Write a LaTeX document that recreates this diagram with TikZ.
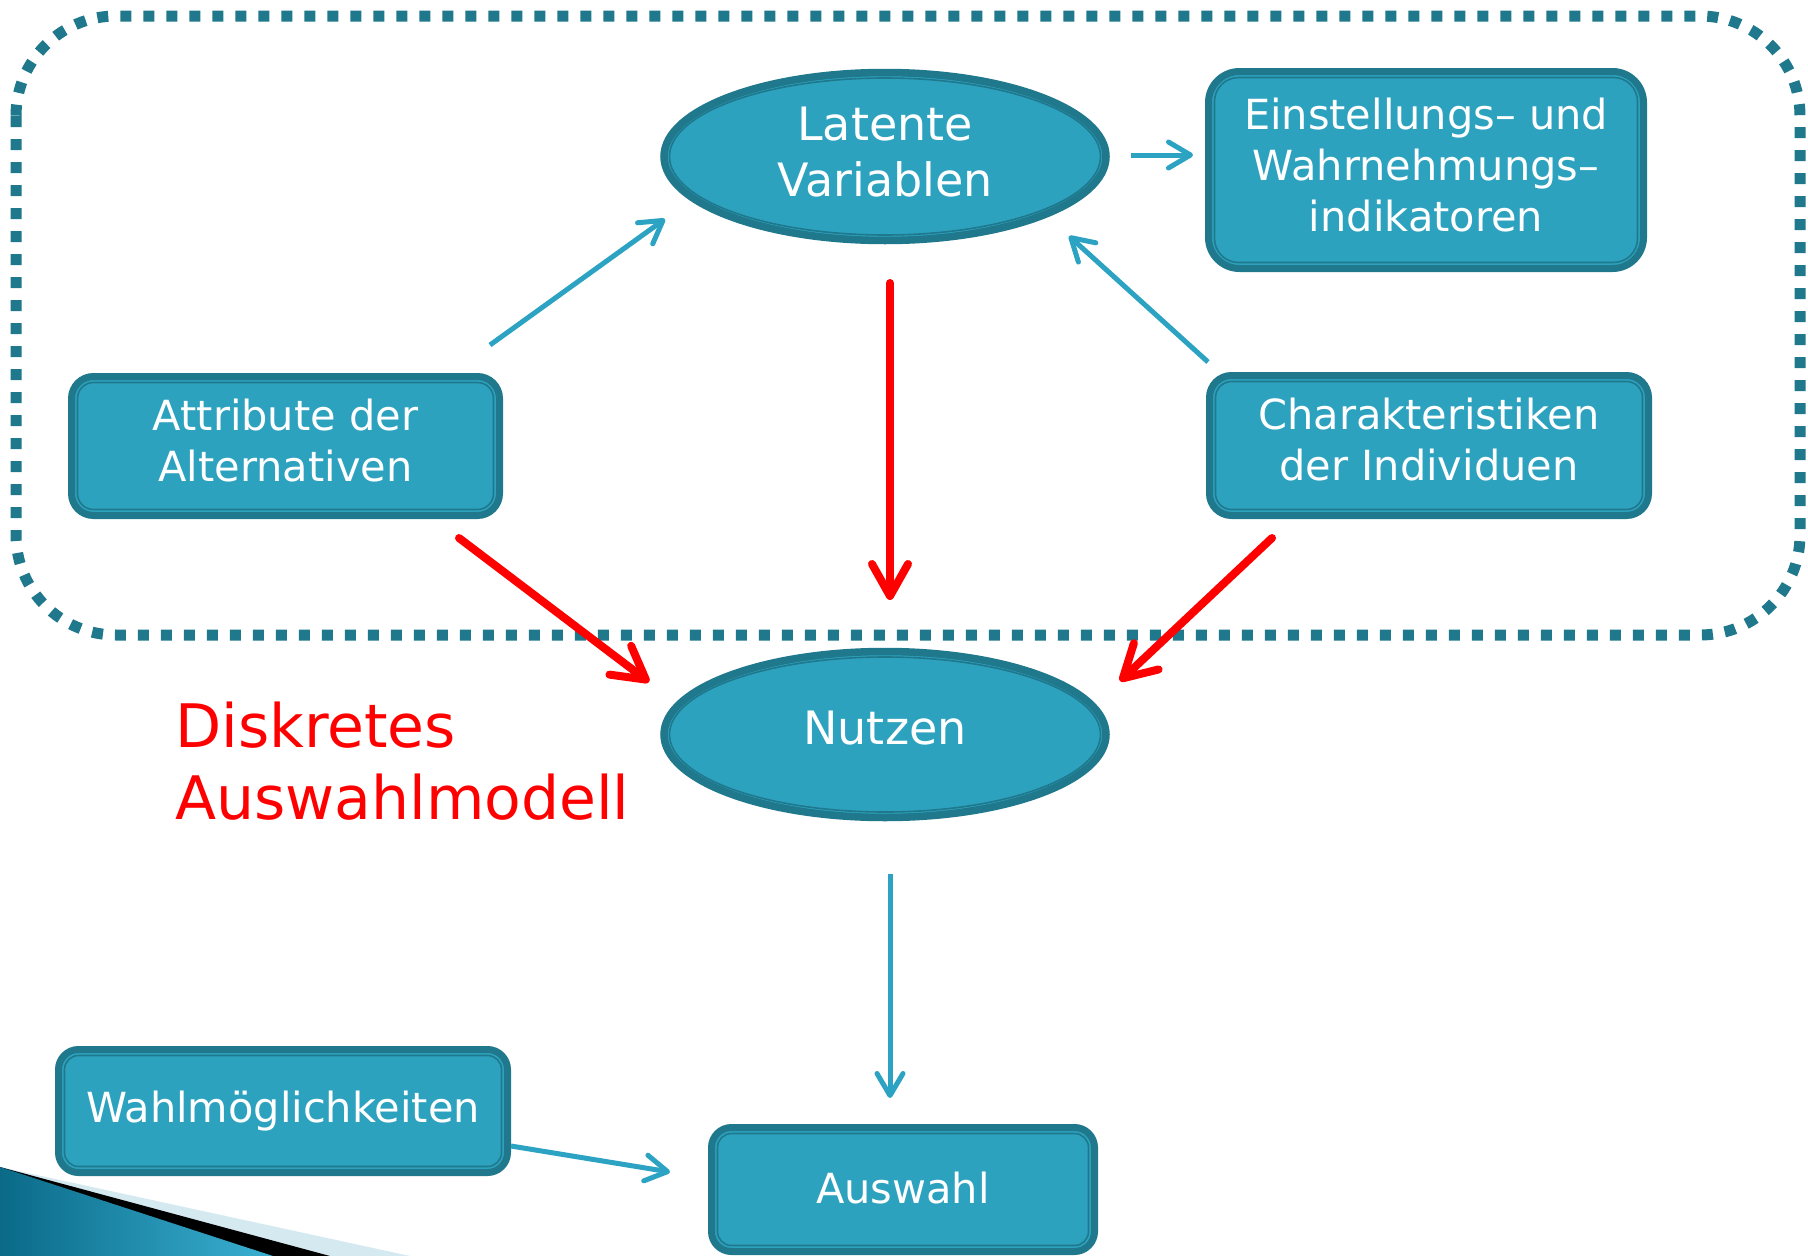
\documentclass[tikz,border=0pt]{standalone}
\usepackage{fontspec}
\setmainfont{DejaVu Sans}
\usetikzlibrary{arrows.meta,calc,shapes.geometric}

\definecolor{boxfill}{HTML}{2DA2BF}
\definecolor{boxedge}{HTML}{1F788C}
\definecolor{flowblue}{HTML}{2CA3C2}
\definecolor{hotred}{HTML}{FF0000}
\definecolor{swdark}{HTML}{0A6A88}
\definecolor{swlight}{HTML}{3AB0D2}
\definecolor{swpale}{HTML}{D5E9F1}

\tikzset{
  boxtext/.style={text=white, align=center, font=\fontsize{41.5}{51}\selectfont},
  roundbox/.style={boxtext, draw=boxedge, fill=boxfill, line width=7pt,
    rectangle, inner sep=0pt},
  ovalbox/.style={boxtext, font=\fontsize{46}{56}\selectfont, draw=boxedge,
    fill=boxfill, line width=7.5pt, ellipse, inner sep=0pt,
    minimum width=442pt, minimum height=168pt},
  innerline/.style={draw=boxedge, line width=1.6pt},
  dotframe/.style={draw=boxedge, line width=11pt, dash pattern=on 11pt off 12pt,
    rounded corners=100pt},
  bluearrow/.style={draw=flowblue, line width=5pt,
    -{Straight Barb[length=22pt,width=26pt,round]}},
  redarrow/.style={draw=hotred, line width=8pt, line cap=round,
    -{Straight Barb[length=32pt,width=36pt,round]}},
  redtext/.style={text=hotred, font=\fontsize{60}{72}\selectfont, inner sep=0pt}
}

% extra depth under the last text line, so the text sits a little high
\newcommand{\lift}[1]{\rule[-#1]{0pt}{0pt}}

% inner outline of a rounded box, inset from its outer edge
\newcommand{\insetbox}[2]{%
  \draw[innerline, rounded corners=#2]
    ($(#1.north west)+(9.5,9.5)$) rectangle ($(#1.south east)+(-9.5,-9.5)$);}

\begin{document}
\begin{tikzpicture}[x=1pt, y=-1pt]
  \useasboundingbox (0,0) rectangle (1808,1256);
  \fill[white] (0,0) rectangle (1808,1256);

  % corner swoosh
  \fill[swpale] (0,1167) -- (410,1256) -- (0,1256) -- cycle;
  \fill[black] (0,1167) -- (330,1256) -- (0,1256) -- cycle;
  \shade[left color=swdark, right color=swlight] (0,1167) -- (273,1256) -- (0,1256) -- cycle;

  % frame around the latent part of the model
  \draw[dotframe] (16,16) rectangle (1800,635);

  % nodes
  \node[ovalbox] (lat) at (885,156.5) {Latente\\Variablen\lift{10pt}};
  \draw[innerline] (lat.center) ellipse [x radius=215.5pt, y radius=78.5pt];

  \node[ovalbox, minimum height=166pt] (nutz) at (885,734.5) {Nutzen\lift{14pt}};
  \draw[innerline] (nutz.center) ellipse [x radius=215.5pt, y radius=77.5pt];

  \node[roundbox, minimum width=435pt, minimum height=197pt, rounded corners=31pt]
    (ein) at (1426,170) {Einstellungs– und\\Wahrnehmungs–\\indikatoren\lift{10pt}};
  \insetbox{ein}{24pt}

  \node[roundbox, minimum width=428pt, minimum height=139pt, rounded corners=22pt]
    (att) at (285.5,446) {Attribute der\\Alternativen\lift{12pt}};
  \insetbox{att}{16pt}

  \node[roundbox, minimum width=439pt, minimum height=140pt, rounded corners=22pt]
    (char) at (1429,445.5) {Charakteristiken\\der Individuen\lift{12pt}};
  \insetbox{char}{16pt}

  \node[roundbox, minimum width=449pt, minimum height=123pt, rounded corners=20pt]
    (wahl) at (283,1111) {Wahlmöglichkeiten\lift{2pt}};
  \insetbox{wahl}{14pt}

  \node[roundbox, minimum width=383pt, minimum height=124pt, rounded corners=20pt]
    (ausw) at (903,1189.5) {Auswahl\lift{4pt}};
  \insetbox{ausw}{14pt}

  \node[redtext, anchor=base west] (diskA) at (175,747) {Diskretes};
  \node[redtext, anchor=base west] (diskB) at (175,819) {Auswahlmodell};

  % connector end points
  \coordinate (attOut)   at (490,345);  \coordinate (latInL)  at (665,219);
  \coordinate (charOut)  at (1208,362); \coordinate (latInR)  at (1069,236);
  \coordinate (latOutR)  at (1131,155); \coordinate (einIn)   at (1193,155);
  \coordinate (latOutD)  at (890,283);  \coordinate (nutInU)  at (890,600);
  \coordinate (attOutD)  at (459,538);  \coordinate (nutInL)  at (649,682);
  \coordinate (charOutD) at (1272,538); \coordinate (nutInR)  at (1120,681);
  \coordinate (nutOutD)  at (890,874);  \coordinate (ausIn)   at (890,1098);
  \coordinate (wahlOut)  at (511,1146); \coordinate (ausInL)  at (670,1172);

  % connectors
  \draw[bluearrow] (attOut) -- (latInL);
  \draw[bluearrow] (charOut) -- (latInR);
  \draw[bluearrow] (latOutR) -- (einIn);
  \draw[redarrow] (latOutD) -- (nutInU);
  \draw[redarrow] (attOutD) -- (nutInL);
  \draw[redarrow] (charOutD) -- (nutInR);
  \draw[bluearrow] (nutOutD) -- (ausIn);
  \draw[bluearrow] (wahlOut) -- (ausInL);
\end{tikzpicture}
\end{document}
